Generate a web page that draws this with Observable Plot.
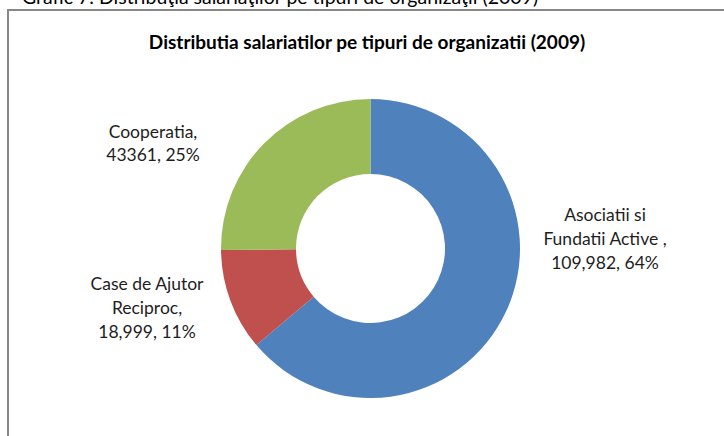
<!DOCTYPE html>
<html><head><meta charset="utf-8">
<script src="https://cdn.jsdelivr.net/npm/d3@7"></script>
<script src="https://cdn.jsdelivr.net/npm/@observablehq/plot@0.6"></script>
<style>
body{margin:0;background:#fff;overflow:hidden;}
#wrap{position:relative;width:724px;height:436px;overflow:hidden;background:#fff;}
#header{position:absolute;left:22px;top:-15px;font:19.5px Lato, "Open Sans", sans-serif;color:#000;white-space:nowrap;}
#frame{position:absolute;left:7px;top:9px;width:800px;height:500px;border:2px solid #888;box-sizing:border-box;}
#chart{position:absolute;left:0;top:0;}
</style></head>
<body>
<div id="wrap">
  <div id="header">Grafic 7. Distribuţia salariaţilor pe tipuri de organizaţii (2009)</div>
  <div id="frame"></div>
  <div id="chart"></div>
</div>
<script>
const title = "Distributia salariatilor pe tipuri de organizatii (2009)";
const categories = ["Asociatii si Fundatii Active", "Case de Ajutor Reciproc", "Cooperatia"];
const values = [109982, 18999, 43361];
const percents = [64, 11, 25];
const labelTexts = [
  "Asociatii si\nFundatii Active ,\n109,982, 64%",
  "Case de Ajutor\nReciproc,\n18,999, 11%",
  "Cooperatia,\n43361, 25%"
];
const colors = ["#4F81BD", "#C0504D", "#9BBB59"];

// layout (pixels)
const W = 724, H = 436;
const CX = 370.5, CY = 248.5, RO = 149.5, RI = 74.5;
const labelOffset = {
  "Asociatii si Fundatii Active": [234, -11.5],
  "Case de Ajutor Reciproc": [-224, 57.5],
  "Cooperatia": [-218, -107]
};

const data = categories.map((c, i) => ({category: c, value: values[i], pct: percents[i], label: labelTexts[i]}));
const arcs = d3.pie().sort(null).value(d => d.value)(data);
const colorOf = new Map(categories.map((c, i) => [c, colors[i]]));

const donut = (index, scales) => {
  const g = d3.create("svg:g").attr("transform", `translate(${scales.x(CX)},${scales.y(CY)})`);
  const arc = d3.arc().innerRadius(RI).outerRadius(RO);
  g.selectAll("path").data(arcs).join("path")
    .attr("d", arc)
    .attr("fill", d => colorOf.get(d.data.category));
  return g.node();
};

const chart = Plot.plot({
  width: W, height: H,
  margin: 0,
  x: {domain: [0, W], range: [0, W], axis: null},
  y: {domain: [0, H], range: [0, H], axis: null},
  style: {fontFamily: "Lato, 'Open Sans', sans-serif", background: "transparent"},
  marks: [
    donut,
    Plot.text(data, {
      x: d => CX + labelOffset[d.category][0],
      y: d => CY + labelOffset[d.category][1],
      text: "label",
      lineAnchor: "middle",
      textAnchor: "middle",
      lineHeight: 1.35,
      fontSize: 17.5,
      fill: "#1e1e1e"
    }),
    Plot.text([title], {
      x: CX - 4, y: 42,
      text: d => d,
      fontSize: 19,
      fontWeight: "bold",
      fill: "#000",
      lineAnchor: "middle"
    })
  ]
});
document.getElementById("chart").appendChild(chart);
</script>
</body></html>
